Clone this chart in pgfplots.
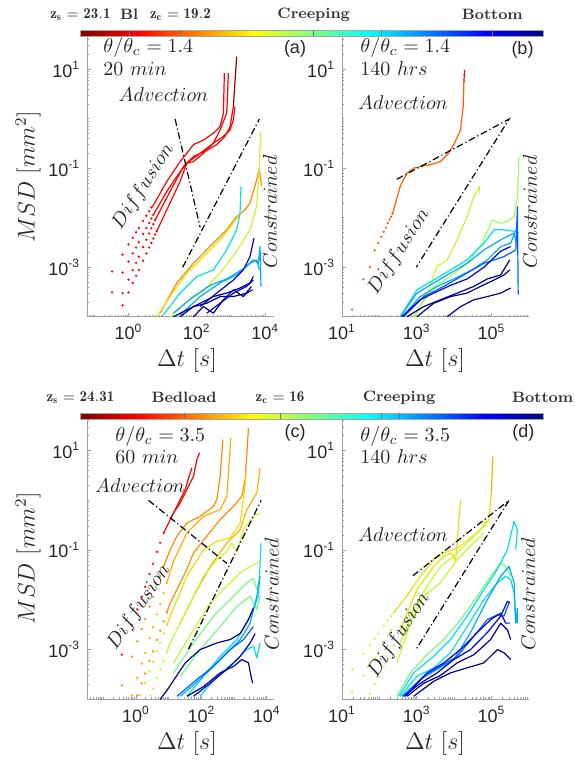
\documentclass[border=0pt]{standalone}
\usepackage{pgfplots}
\pgfplotsset{compat=1.18}
\usepackage{fontspec}
\setsansfont{Liberation Sans}

\definecolor{jk0}{rgb}{0.5,0,0}
\definecolor{jk1}{rgb}{1,0,0}
\definecolor{jk2}{rgb}{1,1,0}
\definecolor{jk3}{rgb}{0,1,1}
\definecolor{jk4}{rgb}{0,0,1}
\definecolor{jk5}{rgb}{0,0,0.5}
\pgfdeclarehorizontalshading{jetr}{100bp}{color(0bp)=(jk0); color(25bp)=(jk0); color(31.25bp)=(jk1); color(43.75bp)=(jk2); color(56.25bp)=(jk3); color(68.75bp)=(jk4); color(75bp)=(jk5); color(100bp)=(jk5)}

\definecolor{cDR}{RGB}{150,0,0}
\definecolor{cR}{RGB}{255,0,0}
\definecolor{cR2}{RGB}{225,10,0}
\definecolor{cOR}{RGB}{255,95,0}
\definecolor{cO}{RGB}{255,140,0}
\definecolor{cO2}{RGB}{255,175,0}
\definecolor{cY}{RGB}{235,225,0}
\definecolor{cYG}{RGB}{195,250,45}
\definecolor{cYG2}{RGB}{160,255,90}
\definecolor{cLG}{RGB}{120,250,130}
\definecolor{cC}{RGB}{0,225,240}
\definecolor{cLB}{RGB}{0,170,255}
\definecolor{cB}{RGB}{0,95,255}
\definecolor{cDB}{RGB}{0,0,220}
\definecolor{cN}{RGB}{0,0,140}

\tikzset{myln/.style={line width=0.6pt, line join=round},
  mydd/.style={black, line width=0.6pt, dash pattern=on 3.4pt off 1.4pt on 0.6pt off 1.4pt}}

\begin{document}
\begin{tikzpicture}
\useasboundingbox (0,0) rectangle (287pt,-380.5pt);

% ---------------- colorbars ----------------
\shade[shading=jetr] (40.25pt,-15pt) rectangle (271.8pt,-18pt);
\draw[gray!70, line width=0.3pt] (40.25pt,-15pt) rectangle (271.8pt,-18pt);
\foreach \xx in {64.6,90.25,156.85,190.7,246.15}{\draw[black!55, line width=0.35pt] (\xx pt,-15pt) -- (\xx pt,-18pt);}
\shade[shading=jetr] (40.25pt,-206.6pt) rectangle (271.8pt,-209.6pt);
\draw[gray!70, line width=0.3pt] (40.25pt,-206.6pt) rectangle (271.8pt,-209.6pt);
\foreach \xx in {92.05,140,190.9,199.5}{\draw[black!55, line width=0.35pt] (\xx pt,-206.6pt) -- (\xx pt,-209.6pt);}

\begin{scope}[every node/.style={font=\fontsize{7.5}{9}\selectfont, text=black!80}]
\node at (40.25pt,-7.3pt) {$\mathbf{z_s = 23.1}$};
\node at (64.6pt,-7.3pt) {\textbf{Bl}};
\node at (90.25pt,-7.3pt) {$\mathbf{z_c = 19.2}$};
\node at (156.85pt,-7.3pt) {\textbf{Creeping}};
\node at (246.15pt,-7.3pt) {\textbf{Bottom}};
\node at (40.25pt,-198.75pt) {$\mathbf{z_s = 24.31}$};
\node at (92.05pt,-198.75pt) {\textbf{Bedload}};
\node at (140pt,-198.75pt) {$\mathbf{z_c = 16}$};
\node at (199.5pt,-198.75pt) {\textbf{Creeping}};
\node at (271.35pt,-198.75pt) {\textbf{Bottom}};
\end{scope}

% ---------------- panel (a) ----------------
\begin{axis}[xmode=log, ymode=log, scale only axis, width=93.4pt, height=139.85pt,
    at={(43.6pt,-158.35pt)}, anchor=south west,
    xmin=0.0617, xmax=18200, ymin=1e-4, ymax=44.7,
    axis x line*=bottom, axis y line*=left,
    axis line style={draw=gray!75, line width=0.45pt},
    major tick style={draw=gray!75, line width=0.35pt},
    minor tick style={draw=gray!75, line width=0.3pt},
    major tick length=1.8pt, minor tick length=1pt, tick align=inside,
    ytick={1e-3,1e-1,1e1},
    yticklabels={10\textsuperscript{-3},10\textsuperscript{-1},10\textsuperscript{1}},
    minor ytick={2e-4,3e-4,4e-4,5e-4,6e-4,7e-4,8e-4,9e-4,2e-3,3e-3,4e-3,5e-3,6e-3,7e-3,8e-3,9e-3,1e-2,2e-2,3e-2,4e-2,5e-2,6e-2,7e-2,8e-2,9e-2,2e-1,3e-1,4e-1,5e-1,6e-1,7e-1,8e-1,9e-1,1,2,3,4,5,6,7,8,9,20,30,40},
    xtick={1,100,10000},
    xticklabels={10\textsuperscript{0},10\textsuperscript{2},10\textsuperscript{4}},
    minor xtick={0.07,0.08,0.09,0.1,0.2,0.3,0.4,0.5,0.6,0.7,0.8,0.9,2,3,4,5,6,7,8,9,10,20,30,40,50,60,70,80,90,200,300,400,500,600,700,800,900,1000,2000,3000,4000,5000,6000,7000,8000,9000},
    tick label style={font=\sffamily\fontsize{9}{10}\selectfont, text=black!85}]
\addplot[only marks, mark=*, mark size=0.35pt, cR] coordinates {(0.33,0.00082)(0.67,0.0018)(1,0.0029)(1.33,0.0039)(1.67,0.0051)(2,0.0062)(2.67,0.0086)(3.33,0.011)(4,0.0135)(4.67,0.016)};
\addplot[only marks, mark=*, mark size=0.35pt, cR] coordinates {(0.33,0.00031)(0.67,0.00078)(1,0.0013)(1.33,0.0019)(1.67,0.0025)(2,0.0032)(2.67,0.0047)(3.33,0.0062)(4,0.0078)(4.67,0.0096)(5.33,0.0114)};
\addplot[only marks, mark=*, mark size=0.35pt, cR] coordinates {(0.67,0.0003)(1,0.00056)(1.33,0.00087)(1.67,0.00123)(2,0.00163)(2.67,0.00255)(3.33,0.0036)(4,0.0048)(4.67,0.0061)(5.33,0.0074)(6,0.0089)};
\addplot[only marks, mark=*, mark size=0.35pt, cR] coordinates {(0.67,0.00017)(1,0.00031)(1.33,0.00048)(1.67,0.00067)(2,0.00088)(2.67,0.00135)(3.33,0.0019)(4,0.0025)(4.67,0.0031)(5.33,0.0038)(6,0.0046)(6.67,0.0053)};
\addplot[myln, cR] coordinates {(4.67,0.016)(5.4,0.018)(13.2,0.054)(32.4,0.136)(50.8,0.2)(79.6,0.3)(156,0.37)(306,0.51)(479,0.69)(600,1.29)(640,8.3)};
\addplot[myln, cR] coordinates {(5.33,0.0114)(13.2,0.034)(25.9,0.068)(50.8,0.126)(79.6,0.136)(156,0.2)(306,0.32)(479,0.59)(750,1.29)(840,8.3)};
\addplot[myln, cR] coordinates {(6,0.0089)(16.5,0.034)(40.6,0.108)(79.6,0.172)(195,0.23)(383,0.3)(671,0.44)(940,0.69)(1175,1.76)};
\addplot[myln, cDR] coordinates {(1175,1.76)(1300,5.2)(1472,18)};
\addplot[myln, cR] coordinates {(6.67,0.0053)(16.5,0.02)(32.4,0.054)(50.8,0.126)(125,0.2)(306,0.32)(600,0.44)(940,0.59)(1175,0.95)(1300,1.76)};
\addplot[myln, cO] coordinates {(8.4,0.000118)(25.9,0.00048)(79.6,0.0012)(244,0.00262)(750,0.0057)(1472,0.0106)(2300,0.0133)(3610,0.0196)(5650,0.058)(6760,0.1)(7900,0.043)};
\addplot[myln, cY] coordinates {(6.7,0.0001)(16.5,0.000255)(50.8,0.00076)(156,0.00164)(479,0.00357)(1175,0.0077)(2060,0.0133)};
\addplot[myln, cYG] coordinates {(16.5,0.0001)(50.8,0.0002)(156,0.00033)(479,0.00076)(1472,0.0021)(3610,0.0057)(5650,0.0168)(6760,0.093)(7400,0.55)};
\addplot[myln, cC] coordinates {(10.5,0.000109)(32.4,0.0003)(100,0.00065)(306,0.00088)(750,0.00224)(1472,0.0057)(1840,0.0123)(1970,0.043)};
\addplot[myln, cLB] coordinates {(20.7,0.000118)(79.6,0.000255)(244,0.00043)(750,0.00058)(2300,0.00093)(4520,0.00141)(6320,0.0012)(7080,0.00262)(7570,0.00041)};
\addplot[myln, cLB] coordinates {(32.4,0.000109)(125,0.000255)(479,0.00048)(1472,0.0007)(3610,0.0012)(5650,0.00141)(6760,0.00088)};
\addplot[myln, cDB] coordinates {(125,0.00016)(383,0.0003)(1175,0.00055)(2300,0.00088)(3610,0.00164)(4730,0.00386)};
\addplot[myln, cN] coordinates {(20.7,0.0001)(50.8,0.000137)(125,0.000187)(306,0.000255)(750,0.0003)(1840,0.00038)(3610,0.00048)(4520,0.00065)};
\addplot[myln, cN] coordinates {(32.4,0.0001)(79.6,0.00016)(195,0.000187)(479,0.000255)(1175,0.000255)(2880,0.0003)(4300,0.00035)};
\addplot[myln, cN] coordinates {(79.6,0.0001)(156,0.00016)(306,0.000118)(600,0.00022)(1175,0.00035)(2300,0.000255)(4000,0.00041)};
\addplot[myln, cDB] coordinates {(195,0.000118)(479,0.000187)(1175,0.0003)(2880,0.00041)(4520,0.00055)};
\addplot[mydd] coordinates {(23.2,0.98)(125,0.0064)};
\addplot[mydd] coordinates {(38.8,0.001)(6760,0.98)};
\end{axis}

% ---------------- panel (b) ----------------
\begin{axis}[xmode=log, ymode=log, scale only axis, width=93.4pt, height=139.85pt,
    at={(171pt,-158.35pt)}, anchor=south west,
    xmin=10, xmax=1e6, ymin=1e-4, ymax=44.7,
    axis x line*=bottom, axis y line*=left,
    axis line style={draw=gray!75, line width=0.45pt},
    major tick style={draw=gray!75, line width=0.35pt},
    minor tick style={draw=gray!75, line width=0.3pt},
    major tick length=1.8pt, minor tick length=1pt, tick align=inside,
    ytick={1e-3,1e-1,1e1},
    yticklabels={10\textsuperscript{-3},10\textsuperscript{-1},10\textsuperscript{1}},
    minor ytick={2e-4,3e-4,4e-4,5e-4,6e-4,7e-4,8e-4,9e-4,2e-3,3e-3,4e-3,5e-3,6e-3,7e-3,8e-3,9e-3,1e-2,2e-2,3e-2,4e-2,5e-2,6e-2,7e-2,8e-2,9e-2,2e-1,3e-1,4e-1,5e-1,6e-1,7e-1,8e-1,9e-1,1,2,3,4,5,6,7,8,9,20,30,40},
    xtick={10,1000,100000},
    xticklabels={10\textsuperscript{1},10\textsuperscript{3},10\textsuperscript{5}},
    minor xtick={20,30,40,50,60,70,80,90,100,200,300,400,500,600,700,800,900,2000,3000,4000,5000,6000,7000,8000,9000,10000,20000,30000,40000,50000,60000,70000,80000,90000,200000,300000,400000,500000,600000,700000,800000,900000},
    tick label style={font=\sffamily\fontsize{9}{10}\selectfont, text=black!85}]
\addplot[only marks, mark=*, mark size=0.35pt, cOR] coordinates {(18.7,0.00014)(37.4,0.00057)(56,0.001)(75,0.0022)(93.5,0.0031)(112,0.0041)(131,0.0052)(150,0.0063)(168,0.0078)(187,0.0092)(206,0.0105)(224,0.012)};
\addplot[myln, cOR] coordinates {(224,0.012)(240,0.0144)(362,0.043)(547,0.079)(827,0.1)(1250,0.108)(2320,0.118)(4300,0.136)(6510,0.185)(9840,0.3)(14900,0.59)(17500,1.76)(18300,5.2)};
\addplot[myln, cR] coordinates {(18300,5.2)(19000,9.7)};
\addplot[myln, cYG] coordinates {(917,0.0001)(1888,0.0003)(3510,0.00103)(6510,0.00141)(12100,0.00357)(22400,0.0106)(33900,0.0268)(41700,0.0338)(48200,0.043)(48200,0.031)};
\addplot[myln, cYG2] coordinates {(827,0.0001)(2850,0.00041)(8000,0.00065)(22400,0.0012)(56000,0.00305)(105000,0.009)(177000,0.0077)(267000,0.0084)(404000,0.0106)(496000,0.0268)(550000,0.172)};
\addplot[myln, cC] coordinates {(362,0.0001)(1016,0.00035)(2850,0.00055)(8000,0.00088)(22400,0.00141)(63000,0.00305)(117000,0.0057)(217000,0.0057)(404000,0.0053)};
\addplot[myln, cLB] coordinates {(362,0.0001)(1016,0.0003)(2850,0.00048)(8000,0.00076)(22400,0.0012)(63000,0.00224)(177000,0.00357)(404000,0.0049)(470000,0.00305)};
\addplot[myln, cLB] coordinates {(402,0.0001)(1250,0.000255)(3510,0.00041)(9840,0.00058)(30000,0.00088)(77400,0.00141)(177000,0.00262)(328000,0.00305)(450000,0.0057)};
\addplot[myln, cB] coordinates {(446,0.0001)(1535,0.000255)(5300,0.00041)(18300,0.0007)(63000,0.0012)(217000,0.00164)(450000,0.00224)(496000,0.0168)(520000,0.00028)};
\addplot[myln, cDB] coordinates {(402,0.0001)(1250,0.00022)(2850,0.0003)(8000,0.00043)(22400,0.00058)(63000,0.001)(177000,0.0021)(328000,0.00262)};
\addplot[myln, cN] coordinates {(547,0.0001)(1535,0.00016)(4300,0.00022)(12100,0.0003)(33900,0.00041)(77400,0.00058)(177000,0.0007)(310000,0.00141)};
\addplot[myln, cN] coordinates {(1016,0.0001)(2850,0.000187)(8000,0.000255)(22400,0.0003)(51300,0.00041)(117000,0.00055)(217000,0.0007)(310000,0.00088)};
\addplot[myln, cN] coordinates {(6510,0.0001)(14900,0.00016)(33900,0.00022)(77400,0.000255)(177000,0.0003)(328000,0.00038)};
\addplot[mydd] coordinates {(295,0.06)(296000,0.98)(975,0.001)};
\end{axis}

% ---------------- panel (c) ----------------
\begin{axis}[xmode=log, ymode=log, scale only axis, width=93.4pt, height=139.85pt,
    at={(43.6pt,-349.65pt)}, anchor=south west,
    xmin=0.0324, xmax=16600, ymin=1e-4, ymax=42,
    axis x line*=bottom, axis y line*=left,
    axis line style={draw=gray!75, line width=0.45pt},
    major tick style={draw=gray!75, line width=0.35pt},
    minor tick style={draw=gray!75, line width=0.3pt},
    major tick length=1.8pt, minor tick length=1pt, tick align=inside,
    ytick={1e-3,1e-1,1e1},
    yticklabels={10\textsuperscript{-3},10\textsuperscript{-1},10\textsuperscript{1}},
    minor ytick={2e-4,3e-4,4e-4,5e-4,6e-4,7e-4,8e-4,9e-4,2e-3,3e-3,4e-3,5e-3,6e-3,7e-3,8e-3,9e-3,1e-2,2e-2,3e-2,4e-2,5e-2,6e-2,7e-2,8e-2,9e-2,2e-1,3e-1,4e-1,5e-1,6e-1,7e-1,8e-1,9e-1,1,2,3,4,5,6,7,8,9,20,30,40},
    xtick={1,100,10000},
    xticklabels={10\textsuperscript{0},10\textsuperscript{2},10\textsuperscript{4}},
    minor xtick={0.04,0.05,0.06,0.07,0.08,0.09,0.1,0.2,0.3,0.4,0.5,0.6,0.7,0.8,0.9,2,3,4,5,6,7,8,9,10,20,30,40,50,60,70,80,90,200,300,400,500,600,700,800,900,1000,2000,3000,4000,5000,6000,7000,8000,9000},
    tick label style={font=\sffamily\fontsize{9}{10}\selectfont, text=black!85}]
\addplot[only marks, mark=*, mark size=0.35pt, cR] coordinates {(0.37,0.00079)(0.75,0.0031)(1.1,0.0064)(1.5,0.0116)(1.9,0.0183)(2.6,0.033)(3.3,0.053)(4.4,0.092)(5.5,0.14)(7,0.22)};
\addplot[myln, cR] coordinates {(7,0.22)(11.2,0.41)(17.9,0.76)(22.6,1.04)(32.1,1.64)(40.6,2.82)(45.6,3.56)(51.3,4.49)};
\addplot[myln, cR2] coordinates {(11.2,0.41)(14.1,0.56)(22.6,0.89)(32.1,1.41)(45.6,2.24)(57.7,3.05)(72.9,6.6)(87.9,9.0)};
\addplot[only marks, mark=*, mark size=0.35pt, cO] coordinates {(0.37,0.00019)(0.75,0.00072)(1.1,0.00146)(1.5,0.0026)(1.9,0.0041)(2.6,0.0073)(3.3,0.0115)(4.4,0.0197)(5.5,0.03)(7,0.047)};
\addplot[myln, cO] coordinates {(7,0.047)(11.2,0.102)(17.9,0.19)(36.1,0.35)(92.1,0.48)(235,0.76)(297,1.04)(376,3.05)(453,16.6)};
\addplot[only marks, mark=*, mark size=0.35pt, cO2] coordinates {(0.75,0.00012)(1.1,0.00027)(1.5,0.00052)(1.9,0.00086)(2.6,0.0017)(3.3,0.0028)(4.4,0.0051)(5.5,0.0082)(7,0.0137)(8.8,0.0219)};
\addplot[myln, cO2] coordinates {(8.8,0.0219)(14.1,0.06)(36.1,0.22)(116,0.48)(376,0.65)(601,1.21)(796,18)};
\addplot[only marks, mark=*, mark size=0.35pt, cO] coordinates {(1.1,0.00012)(1.5,0.00021)(1.9,0.00033)(2.6,0.00059)(3.3,0.00091)(4.4,0.00156)(5.5,0.0024)(7,0.0037)(8.8,0.0056)};
\addplot[myln, cO] coordinates {(8.8,0.0056)(11.2,0.0087)(36.1,0.041)(57.7,0.088)(147,0.19)(376,0.41)(960,0.76)(1725,1.21)(2180,2.6)(2755,28.6)};
\addplot[myln, cO2] coordinates {(22.6,0.0034)(57.7,0.0118)(186,0.047)(601,0.139)(1533,0.258)(2450,0.65)(4950,1.41)(6250,4.49)};
\addplot[only marks, mark=*, mark size=0.35pt, cY] coordinates {(1.36,0.00012)(1.9,0.00021)(2.6,0.00037)(3.3,0.00056)(4.4,0.00093)(5.5,0.00137)(7,0.0021)(8.8,0.0031)};
\addplot[myln, cY] coordinates {(8.8,0.0031)(11.2,0.0047)(36.1,0.0298)(116,0.102)(297,0.15)(759,0.176)(1533,0.35)(2180,1.92)(2340,3.56)};
\addplot[only marks, mark=*, mark size=0.35pt, cYG] coordinates {(2.74,0.00012)(3.3,0.000165)(4.4,0.00027)(5.5,0.0004)(7,0.0006)(8.8,0.00089)};
\addplot[myln, cYG] coordinates {(8.8,0.00089)(11.2,0.00136)(36.1,0.0064)(116,0.0298)(297,0.064)(601,0.094)(853,0.139)(1213,0.094)(1938,0.258)(3915,0.48)(6250,0.56)};
\addplot[myln, cYG] coordinates {(14.1,0.00054)(57.7,0.0025)(186,0.0087)(601,0.0188)(1533,0.035)(3100,0.047)(6250,0.058)};
\addplot[myln, cLG] coordinates {(14.1,0.00034)(57.7,0.00136)(235,0.0047)(960,0.0118)(2450,0.0219)(3915,0.027)(4950,0.0161)(6250,0.0298)};
\addplot[myln, cLG] coordinates {(22.6,0.00029)(92.1,0.001)(376,0.0029)(1213,0.0074)(3100,0.0118)(4950,0.0064)(6250,0.0118)};
\addplot[myln, cC] coordinates {(36.1,0.000115)(116,0.00029)(376,0.00073)(1213,0.00159)(3100,0.0047)(5600,0.0118)(6710,0.139)};
\addplot[myln, cC] coordinates {(92,0.000115)(297,0.00029)(960,0.00054)(2450,0.001)(3915,0.00117)(4950,0.00068)(6250,0.00136)};
\addplot[myln, cLB] coordinates {(22.6,0.000115)(116,0.00029)(475,0.00073)(1533,0.00159)(3100,0.0034)(4950,0.0118)(6250,0.0298)};
\addplot[myln, cB] coordinates {(17.9,0.000115)(72.9,0.00025)(235,0.00046)(759,0.001)(1938,0.00159)(3915,0.0029)};
\addplot[myln, cDB] coordinates {(57.7,0.000115)(186,0.00021)(601,0.0004)(1533,0.00073)(3100,0.00136)(4400,0.0021)};
\addplot[myln, cN] coordinates {(5.5,0.0001)(8.8,0.00015)(32.1,0.00054)(92.1,0.001)(297,0.00136)(759,0.00159)(1533,0.0021)(2755,0.004)(3915,0.0069)};
\addplot[myln, cN] coordinates {(36.1,0.000115)(116,0.00018)(376,0.00034)(960,0.00046)(1725,0.00063)(2755,0.00054)(3300,0.00029)(3700,0.00021)};
\addplot[mydd] coordinates {(2.44,1.0)(601,0.054)};
\addplot[mydd] coordinates {(40.6,0.00103)(6710,1.0)};
\end{axis}

% ---------------- panel (d) ----------------
\begin{axis}[xmode=log, ymode=log, scale only axis, width=93.4pt, height=139.85pt,
    at={(171pt,-349.65pt)}, anchor=south west,
    xmin=10, xmax=1e6, ymin=1e-4, ymax=42,
    axis x line*=bottom, axis y line*=left,
    axis line style={draw=gray!75, line width=0.45pt},
    major tick style={draw=gray!75, line width=0.35pt},
    minor tick style={draw=gray!75, line width=0.3pt},
    major tick length=1.8pt, minor tick length=1pt, tick align=inside,
    ytick={1e-3,1e-1,1e1},
    yticklabels={10\textsuperscript{-3},10\textsuperscript{-1},10\textsuperscript{1}},
    minor ytick={2e-4,3e-4,4e-4,5e-4,6e-4,7e-4,8e-4,9e-4,2e-3,3e-3,4e-3,5e-3,6e-3,7e-3,8e-3,9e-3,1e-2,2e-2,3e-2,4e-2,5e-2,6e-2,7e-2,8e-2,9e-2,2e-1,3e-1,4e-1,5e-1,6e-1,7e-1,8e-1,9e-1,1,2,3,4,5,6,7,8,9,20,30,40},
    xtick={10,1000,100000},
    xticklabels={10\textsuperscript{1},10\textsuperscript{3},10\textsuperscript{5}},
    minor xtick={20,30,40,50,60,70,80,90,100,200,300,400,500,600,700,800,900,2000,3000,4000,5000,6000,7000,8000,9000,10000,20000,30000,40000,50000,60000,70000,80000,90000,200000,300000,400000,500000,600000,700000,800000,900000},
    tick label style={font=\sffamily\fontsize{9}{10}\selectfont, text=black!85}]
\addplot[only marks, mark=*, mark size=0.35pt, cYG] coordinates {(18.7,0.0004)(37.4,0.00082)(56,0.00124)(75,0.00167)(93.5,0.0021)(131,0.003)(168,0.0038)(206,0.0047)(240,0.0055)};
\addplot[only marks, mark=*, mark size=0.35pt, cYG] coordinates {(18.7,0.00014)(37.4,0.0003)(56,0.00048)(75,0.00068)(93.5,0.0009)(131,0.0014)(168,0.0019)(206,0.0025)};
\addplot[only marks, mark=*, mark size=0.35pt, cYG] coordinates {(56,0.00013)(75,0.0002)(93.5,0.00028)(131,0.00045)(168,0.00065)(206,0.0009)(243,0.0012)};
\addplot[myln, cY] coordinates {(240,0.0055)(547,0.0118)(1250,0.0298)(2850,0.064)(5300,0.088)(9840,0.102)(14900,0.12)(33900,0.2)(63000,0.3)(85900,0.41)(99100,1.41)};
\addplot[myln, cO2] coordinates {(99100,1.41)(110000,7.7)};
\addplot[myln, cY] coordinates {(362,0.0025)(1016,0.0161)(2850,0.047)(5300,0.075)(8000,0.088)(9840,0.075)(10900,0.06)(12100,0.139)(14900,1.04)};
\addplot[myln, cYG] coordinates {(362,0.00136)(827,0.0064)(1888,0.0188)(4300,0.047)(9840,0.075)(22400,0.139)(51300,0.258)(77400,0.41)};
\addplot[myln, cYG] coordinates {(295,0.00054)(673,0.0034)(1535,0.0118)(4300,0.0219)(12100,0.064)(27600,0.12)(63000,0.221)};
\addplot[myln, cLG] coordinates {(295,0.000115)(673,0.00034)(1888,0.00079)(5300,0.00159)(14900,0.004)(41700,0.0118)(95100,0.0298)(177000,0.054)(241000,0.047)(328000,0.0298)};
\addplot[myln, cC] coordinates {(330,0.000115)(827,0.00034)(2850,0.00073)(8000,0.00159)(22400,0.0047)(63000,0.0161)(144000,0.041)(267000,0.102)(404000,0.38)(496000,0.258)(448000,0.102)};
\addplot[myln, cC] coordinates {(362,0.000115)(1016,0.00029)(2850,0.00043)(8000,0.00086)(22400,0.0029)(63000,0.0101)(144000,0.022)(241000,0.0298)(328000,0.0255)(404000,0.0139)(448000,0.0034)};
\addplot[myln, cLB] coordinates {(402,0.000115)(1250,0.00025)(3510,0.0004)(9840,0.00063)(27600,0.0022)(77400,0.0101)(177000,0.0298)(296000,0.047)(404000,0.0219)(448000,0.0034)(496000,0.0067)(500000,0.0034)};
\addplot[myln, cB] coordinates {(446,0.000115)(1535,0.00029)(4300,0.00046)(12100,0.00073)(33900,0.00185)(77400,0.004)(144000,0.005)(217000,0.0047)(296000,0.0087)};
\addplot[myln, cDB] coordinates {(494,0.000115)(1888,0.00034)(5300,0.00054)(14900,0.001)(41700,0.0022)(95100,0.004)(177000,0.0054)(241000,0.0034)(315000,0.0034)};
\addplot[myln, cDB] coordinates {(446,0.000115)(1250,0.00021)(3510,0.00034)(9840,0.00063)(27600,0.001)(77400,0.0022)(177000,0.0047)(267000,0.0093)(315000,0.0087)};
\addplot[myln, cN] coordinates {(547,0.000115)(1535,0.00021)(4300,0.0003)(12100,0.00054)(33900,0.00079)(95100,0.00159)(177000,0.0034)(267000,0.0025)(328000,0.00159)};
\addplot[myln, cN] coordinates {(827,0.000115)(2850,0.00023)(8000,0.00034)(22400,0.00043)(63000,0.00054)(144000,0.001)(217000,0.00086)(328000,0.00063)};
\addplot[mydd] coordinates {(796,0.0307)(296000,1.0)(975,0.00103)};
\end{axis}

% ---------------- annotations ----------------
\begin{scope}[every node/.style={font=\fontsize{10}{12}\selectfont, text=black!85, inner sep=0pt}]
\node[anchor=west] at (51.5pt,-23.5pt) {$\theta/\theta_c = 1.4$};
\node[anchor=west] at (51.5pt,-34.3pt) {$20\ min$};
\node at (81.75pt,-47.25pt) {$Advection$};
\node[rotate=57] at (71.65pt,-93.35pt) {$Diffusion$};
\node[rotate=90] at (135pt,-105.85pt) {$Constrained$};
\node[anchor=west] at (180pt,-23.5pt) {$\theta/\theta_c = 1.4$};
\node[anchor=west] at (180pt,-34.3pt) {$140\ hrs$};
\node at (201.5pt,-51.25pt) {$Advection$};
\node[rotate=57] at (199.5pt,-125.85pt) {$Diffusion$};
\node[rotate=90] at (265pt,-105.85pt) {$Constrained$};
\node[anchor=west] at (57.5pt,-218.35pt) {$\theta/\theta_c = 3.5$};
\node[anchor=west] at (57.5pt,-228.35pt) {$60\ min$};
\node at (70pt,-242.85pt) {$Advection$};
\node[rotate=56] at (69.5pt,-303.65pt) {$Diffusion$};
\node[rotate=90] at (135.85pt,-297pt) {$Constrained$};
\node[anchor=west] at (180pt,-218.35pt) {$\theta/\theta_c = 3.5$};
\node[anchor=west] at (180pt,-228.35pt) {$140\ hrs$};
\node at (201.5pt,-267.5pt) {$Advection$};
\node[rotate=57] at (199.5pt,-317.5pt) {$Diffusion$};
\node[rotate=90] at (264.15pt,-297pt) {$Constrained$};
\end{scope}
\begin{scope}[every node/.style={font=\sffamily\fontsize{9}{10}\selectfont, text=black!85}]
\node at (147.5pt,-24.5pt) {(a)};
\node at (261.25pt,-25pt) {(b)};
\node at (147.5pt,-216.5pt) {(c)};
\node at (261.7pt,-216.5pt) {(d)};
\end{scope}
\begin{scope}[every node/.style={font=\fontsize{11.5}{13}\selectfont, text=black!85}]
\node[rotate=90] at (14pt,-88.35pt) {$MSD\ [mm^2]$};
\node[rotate=90] at (14pt,-279pt) {$MSD\ [mm^2]$};
\node at (93.5pt,-180pt) {$\Delta t\ [s]$};
\node at (217.5pt,-180pt) {$\Delta t\ [s]$};
\node at (93.5pt,-371.5pt) {$\Delta t\ [s]$};
\node at (217.5pt,-371.5pt) {$\Delta t\ [s]$};
\end{scope}
\end{tikzpicture}
\end{document}
